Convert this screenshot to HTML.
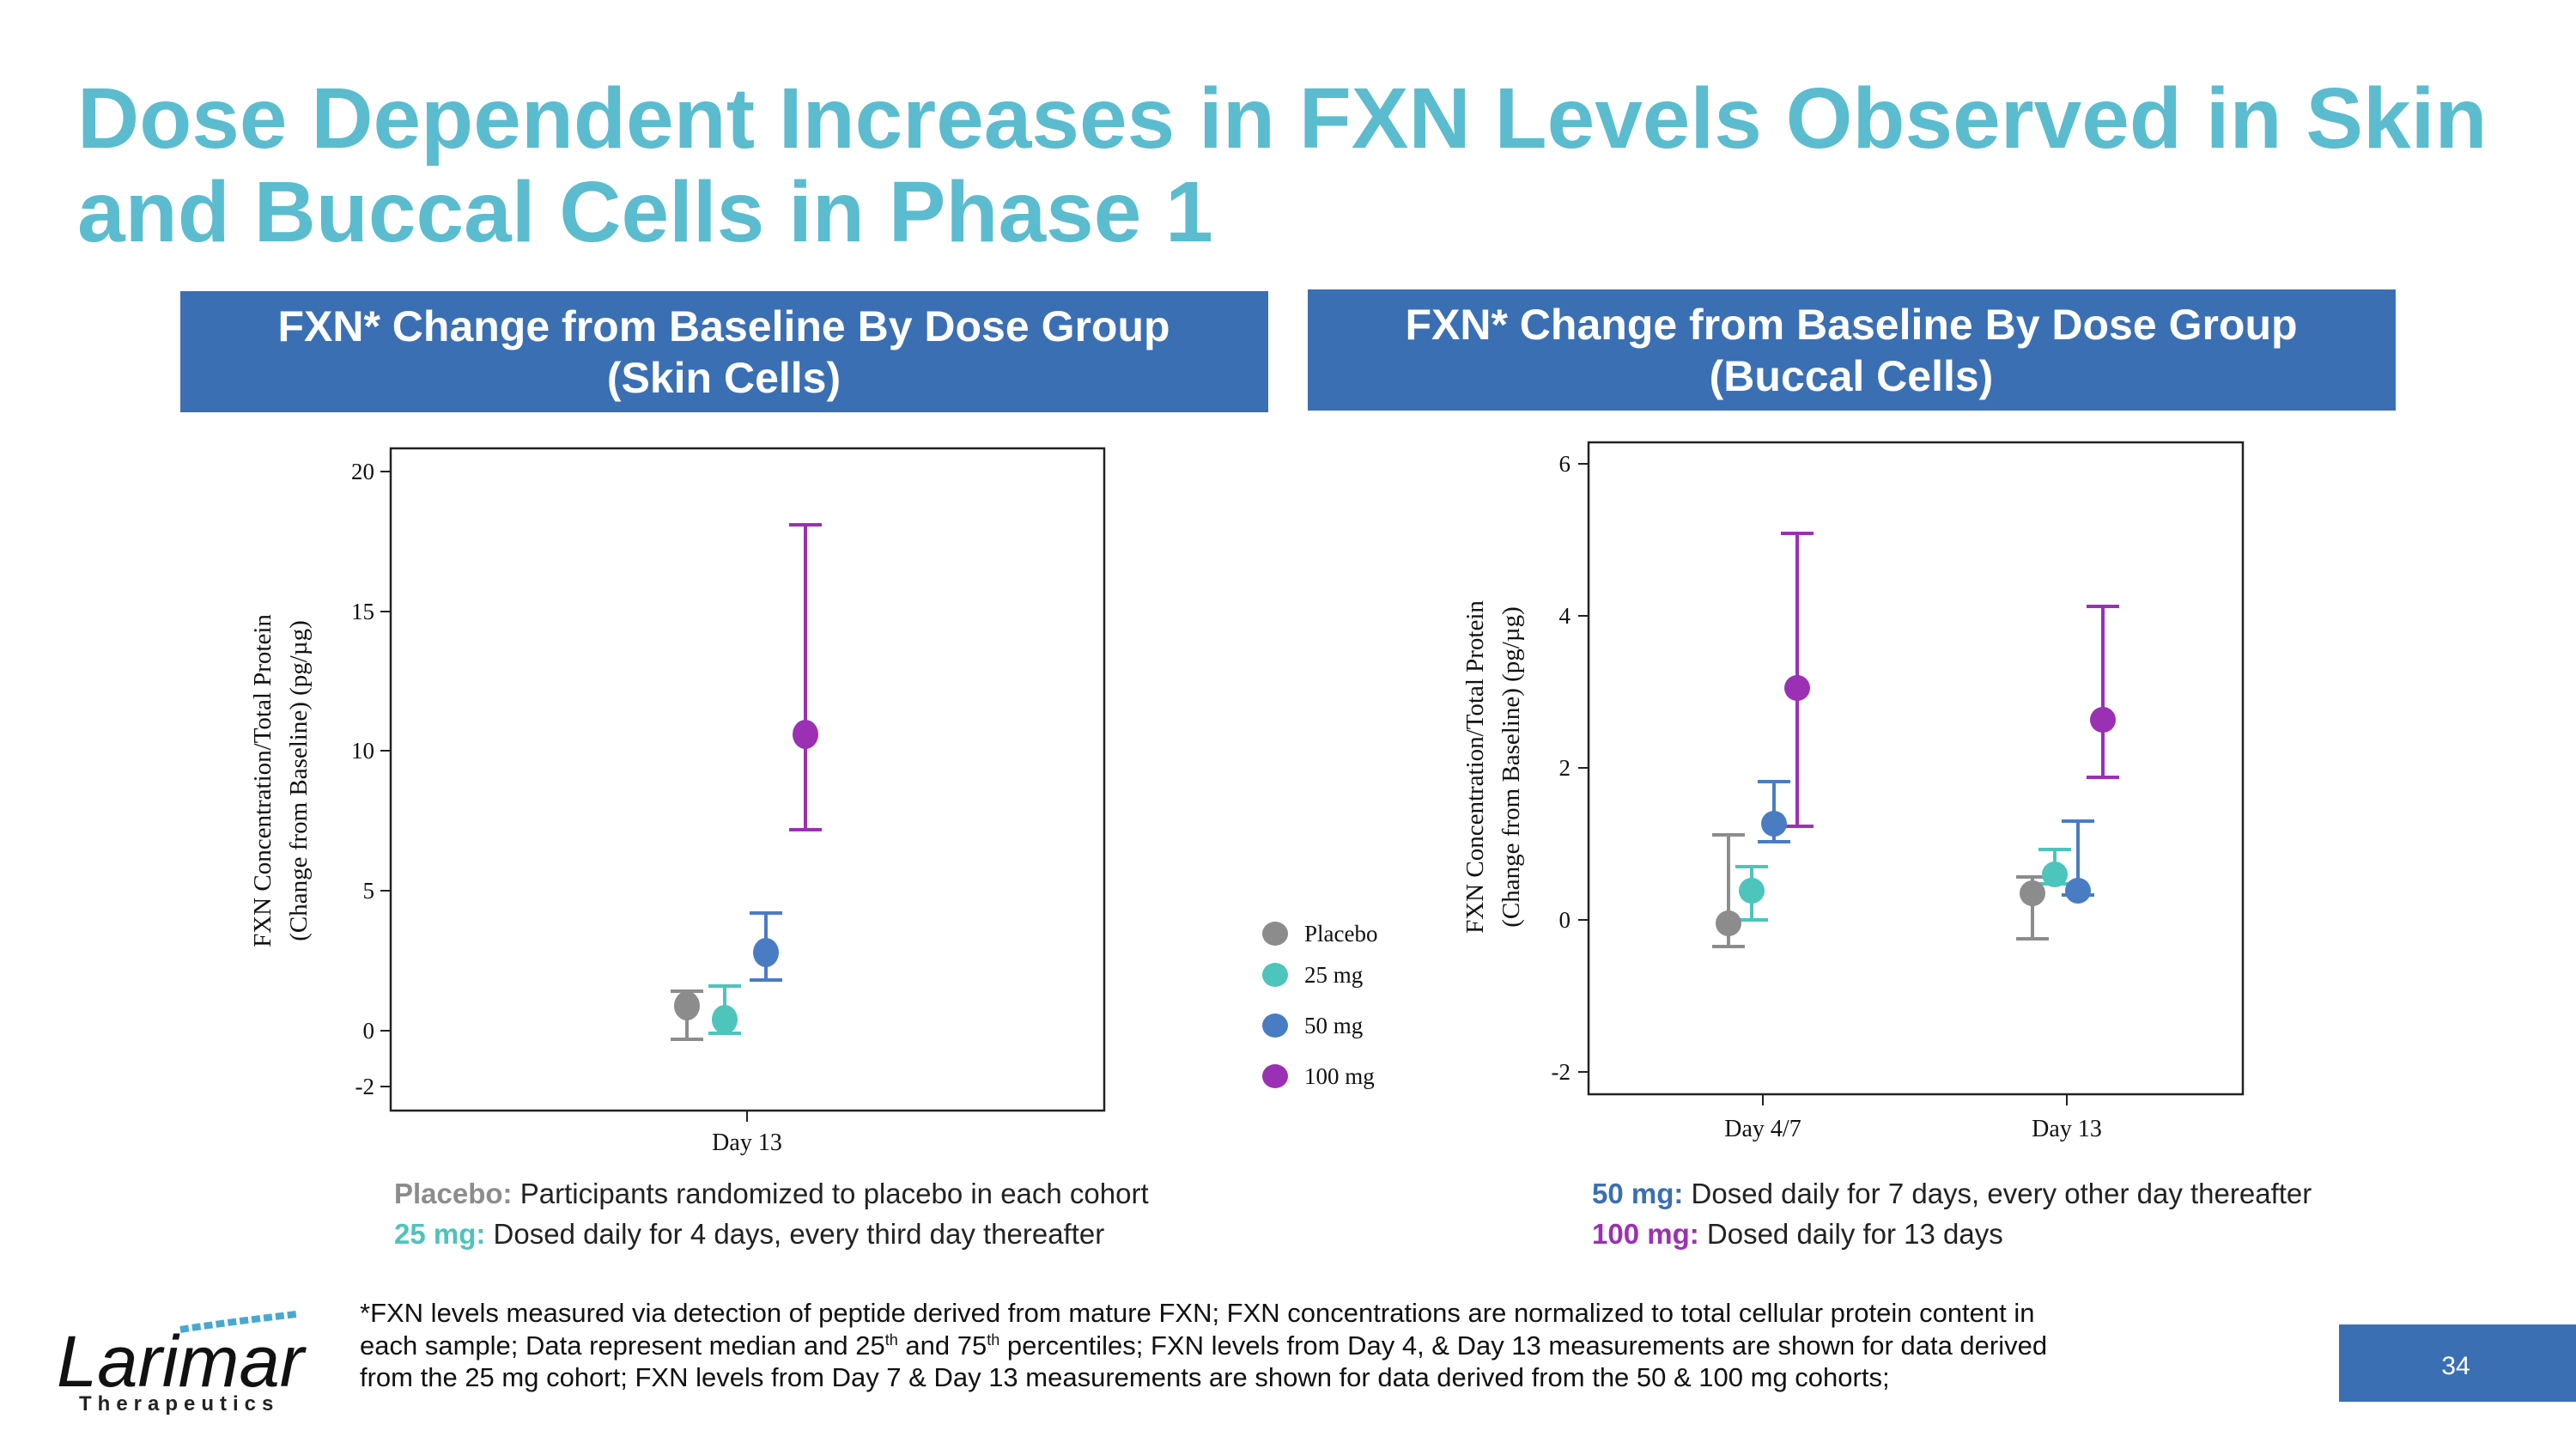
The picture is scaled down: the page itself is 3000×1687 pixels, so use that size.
<!DOCTYPE html>
<html><head><meta charset="utf-8"><style>
html,body{margin:0;padding:0;background:#fff}
svg{display:block}
</style></head><body>
<svg width="3000" height="1687" viewBox="0 0 3000 1687" xmlns="http://www.w3.org/2000/svg">
<g font-family="Liberation Sans, sans-serif" font-weight="bold" fill="#5bbccf" font-size="100">
<text x="90" y="172">Dose Dependent Increases in FXN Levels Observed in Skin</text>
<text x="90" y="281">and Buccal Cells in Phase 1</text>
</g>
<rect x="210" y="339" width="1267" height="141" fill="#3a6fb4"/>
<rect x="1523" y="337" width="1267" height="141" fill="#3a6fb4"/>
<g font-family="Liberation Sans, sans-serif" font-weight="bold" fill="#fff" font-size="50" text-anchor="middle">
<text x="843" y="397">FXN* Change from Baseline By Dose Group</text>
<text x="843" y="457">(Skin Cells)</text>
<text x="2156" y="395">FXN* Change from Baseline By Dose Group</text>
<text x="2156" y="455">(Buccal Cells)</text>
</g>

<!-- Left chart -->
<g font-family="Liberation Serif, serif" font-size="27" fill="#111">
<rect x="455" y="522" width="831" height="771" fill="none" stroke="#222" stroke-width="2.5"/>
<g stroke="#222" stroke-width="2">
<line x1="443" y1="549" x2="455" y2="549"/><line x1="443" y1="712" x2="455" y2="712"/>
<line x1="443" y1="874" x2="455" y2="874"/><line x1="443" y1="1037" x2="455" y2="1037"/>
<line x1="443" y1="1200" x2="455" y2="1200"/><line x1="443" y1="1265" x2="455" y2="1265"/>
<line x1="870" y1="1293" x2="870" y2="1306"/>
</g>
<g text-anchor="end">
<text x="436" y="558">20</text><text x="436" y="721">15</text><text x="436" y="883">10</text>
<text x="436" y="1046">5</text><text x="436" y="1209">0</text><text x="436" y="1274">-2</text>
</g>
<text x="870" y="1339" text-anchor="middle" font-size="28">Day 13</text>
<g transform="translate(306,909) rotate(-90)" text-anchor="middle" font-size="29">
<text x="0" y="9">FXN Concentration/Total Protein</text>
<text x="0" y="51">(Change from Baseline) (pg/µg)</text>
</g>
<g stroke-width="4" fill="none">
<g stroke="#8c8c8c"><line x1="800" y1="1210" x2="800" y2="1154"/><line x1="781" y1="1210" x2="819" y2="1210"/><line x1="781" y1="1154" x2="819" y2="1154"/></g>
<g stroke="#4dc4bc"><line x1="844" y1="1203" x2="844" y2="1148"/><line x1="825" y1="1203" x2="863" y2="1203"/><line x1="825" y1="1148" x2="863" y2="1148"/></g>
<g stroke="#4a7cc3"><line x1="892" y1="1141" x2="892" y2="1063"/><line x1="873" y1="1141" x2="911" y2="1141"/><line x1="873" y1="1063" x2="911" y2="1063"/></g>
<g stroke="#9b30b5"><line x1="938" y1="966" x2="938" y2="611"/><line x1="919" y1="966" x2="957" y2="966"/><line x1="919" y1="611" x2="957" y2="611"/></g>
</g>
<ellipse cx="800" cy="1171" rx="15" ry="17" fill="#8c8c8c"/>
<ellipse cx="844" cy="1187" rx="15" ry="17" fill="#4dc4bc"/>
<ellipse cx="892" cy="1109" rx="15" ry="17" fill="#4a7cc3"/>
<ellipse cx="938" cy="855" rx="15" ry="17" fill="#9b30b5"/>
<!-- legend -->
<ellipse cx="1485" cy="1087" rx="15" ry="14" fill="#8c8c8c"/>
<ellipse cx="1485" cy="1135" rx="15" ry="14" fill="#4dc4bc"/>
<ellipse cx="1485" cy="1194" rx="15" ry="14" fill="#4a7cc3"/>
<ellipse cx="1485" cy="1253" rx="15" ry="14" fill="#9b30b5"/>
<text x="1519" y="1096">Placebo</text><text x="1519" y="1144">25 mg</text>
<text x="1519" y="1203">50 mg</text><text x="1519" y="1262">100 mg</text>
</g>

<!-- Right chart -->
<g font-family="Liberation Serif, serif" font-size="27" fill="#111">
<rect x="1850" y="515" width="762" height="759" fill="none" stroke="#222" stroke-width="2.5"/>
<g stroke="#222" stroke-width="2">
<line x1="1838" y1="540" x2="1850" y2="540"/><line x1="1838" y1="717" x2="1850" y2="717"/>
<line x1="1838" y1="894" x2="1850" y2="894"/><line x1="1838" y1="1071" x2="1850" y2="1071"/>
<line x1="1838" y1="1248" x2="1850" y2="1248"/>
<line x1="2053" y1="1274" x2="2053" y2="1287"/><line x1="2407" y1="1274" x2="2407" y2="1287"/>
</g>
<g text-anchor="end">
<text x="1829" y="549">6</text><text x="1829" y="726">4</text><text x="1829" y="903">2</text>
<text x="1829" y="1080">0</text><text x="1829" y="1257">-2</text>
</g>
<text x="2053" y="1323" text-anchor="middle" font-size="28">Day 4/7</text>
<text x="2407" y="1323" text-anchor="middle" font-size="28">Day 13</text>
<g transform="translate(1718,893) rotate(-90)" text-anchor="middle" font-size="29">
<text x="0" y="9">FXN Concentration/Total Protein</text>
<text x="0" y="51">(Change from Baseline) (pg/µg)</text>
</g>
<g stroke-width="4" fill="none">
<g stroke="#8c8c8c"><line x1="2013" y1="1102" x2="2013" y2="972"/><line x1="1994" y1="1102" x2="2032" y2="1102"/><line x1="1994" y1="972" x2="2032" y2="972"/></g>
<g stroke="#4dc4bc"><line x1="2040" y1="1071" x2="2040" y2="1009"/><line x1="2021" y1="1071" x2="2059" y2="1071"/><line x1="2021" y1="1009" x2="2059" y2="1009"/></g>
<g stroke="#4a7cc3"><line x1="2066" y1="980" x2="2066" y2="910"/><line x1="2047" y1="980" x2="2085" y2="980"/><line x1="2047" y1="910" x2="2085" y2="910"/></g>
<g stroke="#9b30b5"><line x1="2093" y1="962" x2="2093" y2="621"/><line x1="2074" y1="962" x2="2112" y2="962"/><line x1="2074" y1="621" x2="2112" y2="621"/></g>
<g stroke="#8c8c8c"><line x1="2367" y1="1093" x2="2367" y2="1021"/><line x1="2348" y1="1093" x2="2386" y2="1093"/><line x1="2348" y1="1021" x2="2386" y2="1021"/></g>
<g stroke="#4dc4bc"><line x1="2393" y1="1029" x2="2393" y2="989"/><line x1="2374" y1="1029" x2="2412" y2="1029"/><line x1="2374" y1="989" x2="2412" y2="989"/></g>
<g stroke="#4a7cc3"><line x1="2420" y1="1042" x2="2420" y2="956"/><line x1="2401" y1="1042" x2="2439" y2="1042"/><line x1="2401" y1="956" x2="2439" y2="956"/></g>
<g stroke="#9b30b5"><line x1="2449" y1="905" x2="2449" y2="706"/><line x1="2430" y1="905" x2="2468" y2="905"/><line x1="2430" y1="706" x2="2468" y2="706"/></g>
</g>
<circle cx="2013" cy="1075" r="15" fill="#8c8c8c"/>
<circle cx="2040" cy="1037" r="15" fill="#4dc4bc"/>
<circle cx="2066" cy="959" r="15" fill="#4a7cc3"/>
<circle cx="2093" cy="801" r="15" fill="#9b30b5"/>
<circle cx="2367" cy="1040" r="15" fill="#8c8c8c"/>
<circle cx="2393" cy="1018" r="15" fill="#4dc4bc"/>
<circle cx="2420" cy="1037" r="15" fill="#4a7cc3"/>
<circle cx="2449" cy="838" r="15" fill="#9b30b5"/>
</g>

<!-- Descriptions -->
<g font-family="Liberation Sans, sans-serif" font-size="33" fill="#222">
<text x="459" y="1401"><tspan font-weight="bold" fill="#8c8c8c">Placebo:</tspan> Participants randomized to placebo in each cohort</text>
<text x="459" y="1448"><tspan font-weight="bold" fill="#4dc4bc">25 mg:</tspan> Dosed daily for 4 days, every third day thereafter</text>
<text x="1854" y="1401"><tspan font-weight="bold" fill="#3a6fb4">50 mg:</tspan> Dosed daily for 7 days, every other day thereafter</text>
<text x="1854" y="1448"><tspan font-weight="bold" fill="#9b30b5">100 mg:</tspan> Dosed daily for 13 days</text>
</g>
<g font-family="Liberation Sans, sans-serif" font-size="31" fill="#111">
<text x="419" y="1539">*FXN levels measured via detection of peptide derived from mature FXN; FXN concentrations are normalized to total cellular protein content in</text>
<text x="419" y="1577">each sample; Data represent median and 25<tspan font-size="18" dy="-11">th</tspan><tspan dy="11"> and 75</tspan><tspan font-size="18" dy="-11">th</tspan><tspan dy="11"> percentiles; FXN levels from Day 4, &amp; Day 13 measurements are shown for data derived</tspan></text>
<text x="419" y="1614">from the 25 mg cohort; FXN levels from Day 7 &amp; Day 13 measurements are shown for data derived from the 50 &amp; 100 mg cohorts;</text>
</g>
<rect x="2724" y="1542" width="276" height="90" fill="#3a6fb4"/>
<text x="2860" y="1600" font-family="Liberation Sans, sans-serif" font-size="30" fill="#fff" text-anchor="middle">34</text>
<!-- logo -->
<text x="66" y="1614" font-family="Liberation Sans, sans-serif" font-style="italic" font-size="84" fill="#111" textLength="288" lengthAdjust="spacingAndGlyphs">Larimar</text>
<path d="M210 1548 Q260 1540 345 1530" stroke="#4aa8d0" stroke-width="8" fill="none" stroke-dasharray="10 4"/>
<text x="92" y="1642" font-family="Liberation Sans, sans-serif" font-size="24" font-weight="bold" fill="#222" letter-spacing="7">Therapeutics</text>
</svg>
</body></html>
